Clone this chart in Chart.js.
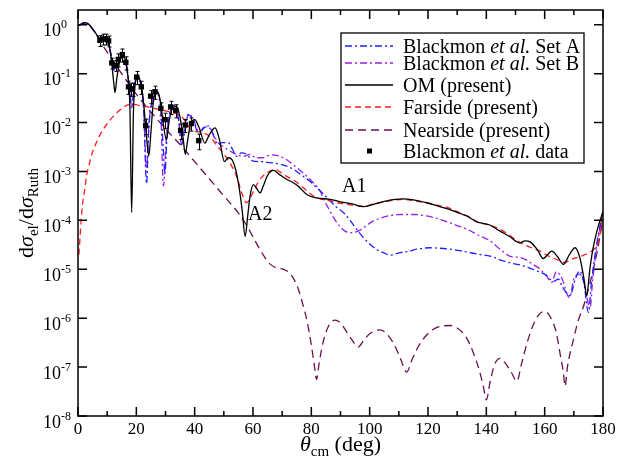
<!DOCTYPE html>
<html>
<head>
<meta charset="utf-8">
<script src="https://cdn.jsdelivr.net/npm/chart.js@4.4.1/dist/chart.umd.min.js"></script>
<style>
  html, body { margin: 0; padding: 0; background: #fff; }
  canvas { display: block; }
</style>
</head>
<body>
<canvas id="chart" width="628" height="464"></canvas>
<script>
// angles in degrees; curve values are log10(dσ_el/dσ_Ruth)
const omTheta = [0,1,2.3,3.5,4.5,5.7,7,8,9,10,10.8,11.5,12.2,12.7,13.3,14.2,15.3,16.2,17,17.8,18.4,19,19.8,20.6,21.5,22.5,23.5,24.3,25,25.8,27,28.2,29.3,30.3,31.3,32.5,33.8,35,36,36.8,37.5,38.5,40,41.5,43.5,45,47,48.5,50.2,51.5,52.8,54,55.3,56.3,57.3,58.2,59,60.1,61.3,62.4,63.5,65,67,69,71.5,73.5,75.5,78.4,81.8,86.4,90,94.4,97.8,101,105.8,111.4,115,119.5,123,127.5,131,133.3,136.7,141,144.7,148,151.5,153.3,155,157.5,159.5,161,162.4,164.5,166.4,168.5,170.4,172,173.5,174.4,175.5,176.5,178,180];
const omLog = [-0.02,0,0.04,0.02,-0.05,-0.14,-0.25,-0.3,-0.3,-0.32,-0.45,-0.75,-1.15,-1.39,-1.1,-0.78,-0.63,-0.7,-1.0,-1.7,-3.84,-1.8,-1.15,-1.05,-1.2,-1.6,-2.3,-2.68,-2.2,-1.6,-1.36,-1.55,-2.05,-2.35,-1.95,-1.7,-1.67,-1.9,-2.3,-2.65,-2.4,-2.05,-1.94,-2.1,-2.42,-2.25,-2.11,-2.35,-2.8,-2.72,-2.76,-2.95,-3.35,-3.8,-4.33,-3.9,-3.5,-3.27,-3.35,-3.44,-3.3,-3.08,-2.98,-3.06,-3.16,-3.22,-3.3,-3.47,-3.54,-3.57,-3.62,-3.67,-3.72,-3.68,-3.6,-3.56,-3.58,-3.64,-3.7,-3.78,-3.86,-3.91,-4.03,-4.09,-4.22,-4.33,-4.46,-4.42,-4.44,-4.6,-4.78,-4.7,-4.63,-4.75,-4.9,-4.7,-4.56,-4.75,-5.2,-5.54,-5.0,-4.6,-4.2,-3.82];

const setATheta = [0,2.3,4.5,6,7.5,9,10.5,11.7,12.5,13.3,14.5,15.5,16.5,17.5,18.4,19.3,20.5,21.5,22.5,23.5,24.3,25.5,27,28.3,29.3,29.8,30.5,31.5,33,34.5,35.5,36.5,37.8,39.5,41.5,43,44.5,46,48,49.5,51.5,53,54.4,56,57.8,60.1,63,65.8,68.5,71.5,74.5,77.2,79.5,81.8,84,86.4,89,91,93.3,95.5,97.8,100.1,102.5,104.7,107,110.4,113.8,116.1,120.7,124,127.5,131,134.4,138,141.3,145.8,149,152.7,155,157.3,160.5,163,164.7,166,168.7,170.5,172,173.5,175,176,177.5,180];
const setALog = [-0.02,0.04,-0.05,-0.17,-0.28,-0.33,-0.42,-0.7,-0.9,-0.85,-0.7,-0.66,-0.8,-1.2,-1.65,-1.25,-1.05,-1.2,-1.75,-3.25,-2.1,-1.55,-1.38,-1.7,-2.6,-3.05,-2.3,-1.8,-1.65,-1.95,-2.45,-2.2,-1.84,-1.95,-2.25,-2.12,-2.08,-2.2,-2.45,-2.41,-2.41,-2.55,-2.69,-2.62,-2.65,-2.79,-2.8,-2.82,-2.84,-2.89,-2.98,-3.1,-3.2,-3.33,-3.45,-3.6,-3.75,-3.84,-4.0,-4.18,-4.35,-4.49,-4.6,-4.66,-4.71,-4.66,-4.63,-4.59,-4.56,-4.57,-4.59,-4.62,-4.66,-4.7,-4.73,-4.83,-4.88,-4.93,-4.98,-5.03,-5.12,-5.25,-5.2,-5.35,-5.54,-5.2,-5.03,-5.3,-5.88,-5.3,-4.6,-3.82];

const setBTheta = [0,2.3,4.5,6,7.5,9,10.5,11.7,12.5,13.3,14.5,15.5,16.5,17.5,18.4,19.3,20.5,21.5,22.5,23.5,24.3,25.5,27,28.3,29.3,30.2,31.5,33,34.5,35.5,36.5,38,39.5,41.5,43,44.7,46.5,48,50,53.2,56.7,59,61,63.4,66,69.3,72,75,77,79.5,81.5,83,84.5,86.4,88,89.8,91.5,93.3,95,96.7,99,101.3,104,108.1,111.5,115,119.5,123.5,127.5,131,133.3,137.8,141.3,144.7,148,151.5,154,156,158.5,160.7,162.4,164,166,168.5,170,172,174,175.5,176.5,178,180];
const setBLog = [-0.02,0.04,-0.05,-0.17,-0.28,-0.33,-0.42,-0.72,-0.95,-0.88,-0.7,-0.66,-0.82,-1.25,-1.7,-1.28,-1.05,-1.2,-1.7,-2.95,-2.05,-1.55,-1.38,-1.7,-3.3,-2.4,-1.8,-1.65,-1.95,-2.45,-2.15,-1.82,-1.92,-2.2,-2.1,-2.07,-2.25,-2.41,-2.5,-2.62,-2.69,-2.65,-2.72,-2.72,-2.66,-2.69,-2.78,-2.92,-3.02,-3.16,-3.28,-3.4,-3.6,-3.81,-3.98,-4.12,-4.22,-4.25,-4.24,-4.2,-4.1,-4.01,-3.95,-3.89,-3.88,-3.88,-3.91,-3.97,-4.05,-4.13,-4.18,-4.32,-4.42,-4.59,-4.73,-4.76,-4.82,-4.9,-5.0,-5.14,-5.27,-5.05,-5.2,-5.58,-5.2,-5.1,-5.4,-5.82,-5.2,-4.5,-3.82];

const farTheta = [0.3,0.7,1.1,1.6,2.3,3,4,5,6.3,8,10.3,12,13.7,15.5,17.1,19.4,21.5,24,27,30,32.6,35,36.5,38.4,40,42.4,45.3,47,48.7,50.5,52,54.4,56.1,57.8,59,61.3,63,64.7,67.5,69.5,71.5,74,76,78.5,80.6,83,86.4,89,92.1,95,97.7,101,103.5,107,111.4,115,119.5,123,126.4,130,133.3,137.8,141.3,144.7,148,151.5,155,158.4,161,164.1,167,169,171,173,175.5,177,178.3,179.2,180];
const farLog = [-4.7,-4.35,-3.98,-3.65,-3.37,-3.07,-2.82,-2.6,-2.41,-2.2,-2.0,-1.88,-1.78,-1.69,-1.64,-1.63,-1.66,-1.68,-1.72,-1.76,-1.8,-1.85,-1.95,-2.12,-2.18,-2.2,-2.29,-2.42,-2.55,-2.68,-2.82,-3.1,-3.43,-3.64,-3.55,-3.27,-3.12,-3.03,-2.96,-3.02,-3.1,-3.18,-3.27,-3.4,-3.5,-3.56,-3.6,-3.64,-3.67,-3.7,-3.71,-3.67,-3.64,-3.6,-3.57,-3.6,-3.64,-3.69,-3.73,-3.82,-3.91,-4.05,-4.1,-4.18,-4.31,-4.45,-4.55,-4.63,-4.72,-4.8,-4.86,-4.8,-4.76,-4.72,-4.65,-4.58,-4.45,-4.2,-3.82];

const nearTheta = [0,2.3,4,6,8,10,12,14,16,18,20,22,24,27,30,35,40,45,50,55,58,61,64,66,68,70.5,72,74,75.5,77,78.5,80,81,81.8,82.6,84,86,88.1,90,92,94,96,98,100,103.5,106,108.5,110.5,112.7,114.5,116.5,119,122,125,127.5,130,133,135.5,137.5,139,140,141.3,142.8,144.7,146.5,148.5,150.5,152,154,156,158,160,162,164,165.5,166.4,167,167.8,169.9,171.5,173.3,175,176.7,178.3,180];
const nearLog = [-0.02,0.04,0.0,-0.18,-0.38,-0.56,-0.74,-0.92,-1.09,-1.26,-1.42,-1.57,-1.72,-1.92,-2.13,-2.45,-2.8,-3.15,-3.5,-3.85,-4.12,-4.45,-4.75,-4.9,-4.97,-5.0,-5.05,-5.2,-5.4,-5.7,-6.05,-6.55,-6.95,-7.25,-6.95,-6.5,-6.15,-6.04,-6.1,-6.27,-6.45,-6.59,-6.45,-6.32,-6.24,-6.33,-6.55,-6.82,-7.1,-6.85,-6.6,-6.38,-6.22,-6.16,-6.15,-6.2,-6.38,-6.7,-7.05,-7.4,-7.67,-7.3,-6.95,-6.82,-6.92,-7.1,-7.29,-6.95,-6.5,-6.15,-5.93,-5.86,-5.98,-6.3,-6.8,-7.1,-7.39,-7.0,-6.43,-6.05,-5.76,-5.4,-5.0,-4.55,-3.95];

// Blackmon et al. data points, with relative errors
const dataTheta = [7.5,8.7,9.6,10.5,11.6,12.9,13.8,15.2,16.4,17.3,18.2,18.7,20.1,21.7,23.2,24.9,26.4,28.4,29.9,31.8,33.5,35.2,36.8,38.9,41.4];
const dataLog = [-0.32,-0.29,-0.29,-0.33,-0.78,-0.83,-0.71,-0.61,-0.77,-1.27,-1.31,-1.31,-1.07,-1.27,-2.06,-1.46,-1.37,-1.71,-1.94,-1.68,-1.75,-2.16,-2.05,-2.02,-2.37];
const dataErr = [0.25,0.25,0.25,0.25,0.25,0.25,0.3,0.3,0.3,0.3,0.3,0.3,0.3,0.3,0.35,0.3,0.3,0.3,0.35,0.3,0.3,0.35,0.3,0.3,0.35];

const xMajor = [0,20,40,60,80,100,120,140,160,180];
const xMinor = [10,30,50,70,90,110,130,150,170];
const yDecades = [0,-1,-2,-3,-4,-5,-6,-7,-8];

const SERIF = '"Liberation Serif", "DejaVu Serif", serif';
const toPoints = (th, lg) => th.map((t, i) => ({ x: t, y: Math.pow(10, lg[i]) }));

const curveStyle = { showLine: true, pointRadius: 0, fill: false, cubicInterpolationMode: 'monotone', borderWidth: 1.3 };

const series = [
  { key: 'setA', parts: [['Blackmon ', ''], ['et al.', 'italic '], [' Set A', '']], color: '#2020ff', dash: [7, 3, 2, 3] },
  { key: 'setB', parts: [['Blackmon ', ''], ['et al.', 'italic '], [' Set B', '']], color: '#9a1fe0', dash: [7, 3, 2, 3] },
  { key: 'om', parts: [['OM (present)', '']], color: '#000000', dash: [] },
  { key: 'far', parts: [['Farside (present)', '']], color: '#ff1a1a', dash: [6, 4] },
  { key: 'near', parts: [['Nearside (present)', '']], color: '#6b0f4f', dash: [8, 5] },
  { key: 'data', parts: [['Blackmon ', ''], ['et al.', 'italic '], [' data', '']], color: '#000000', dash: null }
];
const legendRowY = [13, 30, 52, 74, 97, 118];

function drawParts(ctx, parts, x, y) {
  // parts: [text, font, dy]
  let cx = x;
  parts.forEach(p => {
    ctx.font = p[1];
    ctx.fillText(p[0], cx, y + (p[2] || 0));
    cx += ctx.measureText(p[0]).width;
  });
  return cx - x;
}
function partsWidth(ctx, parts) {
  let w = 0;
  parts.forEach(p => { ctx.font = p[1]; w += ctx.measureText(p[0]).width; });
  return w;
}

const errorBars = {
  id: 'errorBars',
  afterDatasetsDraw(chart) {
    const { ctx, scales: { x, y } } = chart;
    ctx.save();
    ctx.strokeStyle = '#000';
    ctx.lineWidth = 1;
    dataTheta.forEach((t, i) => {
      const v = Math.pow(10, dataLog[i]);
      const px = Math.round(x.getPixelForValue(t)) + 0.5;
      const top = y.getPixelForValue(v * (1 + dataErr[i]));
      const bot = y.getPixelForValue(v * (1 - dataErr[i]));
      ctx.beginPath();
      ctx.moveTo(px, top); ctx.lineTo(px, bot);
      ctx.moveTo(px - 2, top); ctx.lineTo(px + 2, top);
      ctx.moveTo(px - 2, bot); ctx.lineTo(px + 2, bot);
      ctx.stroke();
    });
    ctx.restore();
  }
};

const frame = {
  id: 'frame',
  afterDraw(chart) {
    const { ctx, chartArea: a, scales: { x, y } } = chart;
    ctx.save();
    ctx.strokeStyle = '#000';
    ctx.lineWidth = 1.5;
    ctx.strokeRect(a.left, a.top, a.right - a.left, a.bottom - a.top);

    ctx.beginPath();
    xMajor.forEach(v => {
      const px = x.getPixelForValue(v);
      ctx.moveTo(px, a.bottom); ctx.lineTo(px, a.bottom - 9);
      ctx.moveTo(px, a.top); ctx.lineTo(px, a.top + 9);
    });
    xMinor.forEach(v => {
      const px = x.getPixelForValue(v);
      ctx.moveTo(px, a.bottom); ctx.lineTo(px, a.bottom - 5);
      ctx.moveTo(px, a.top); ctx.lineTo(px, a.top + 5);
    });
    yDecades.forEach(e => {
      const py = y.getPixelForValue(Math.pow(10, e));
      ctx.moveTo(a.left, py); ctx.lineTo(a.left + 9, py);
      ctx.moveTo(a.right, py); ctx.lineTo(a.right - 9, py);
    });
    ctx.stroke();

    // tick labels
    ctx.fillStyle = '#000';
    ctx.textBaseline = 'alphabetic';
    ctx.textAlign = 'center';
    ctx.font = '17px ' + SERIF;
    xMajor.forEach(v => ctx.fillText(String(v), x.getPixelForValue(v), a.bottom + 18));
    ctx.textAlign = 'left';
    yDecades.forEach(e => {
      const py = y.getPixelForValue(Math.pow(10, e));
      drawParts(ctx, [['10', '18px ' + SERIF, 11.5], [String(e), '12px ' + SERIF, 3.5]], a.left - 35, py);
    });

    // axis titles
    const big = '22px ' + SERIF, bigIt = 'italic 22px ' + SERIF, sub = '15px ' + SERIF;
    const xt = [['θ', bigIt, 0], ['cm', sub, 5], [' (deg)', big, 0]];
    const xw = partsWidth(ctx, xt);
    drawParts(ctx, xt, (a.left + a.right) / 2 - xw / 2, a.bottom + 35);

    const yt = [['d', big, 0], ['σ', bigIt, 0], ['el', sub, 5], ['/d', big, 0], ['σ', bigIt, 0], ['Ruth', sub, 5]];
    const yw = partsWidth(ctx, yt);
    ctx.save();
    ctx.translate(a.left - 45, (a.top + a.bottom) / 2);
    ctx.rotate(-Math.PI / 2);
    drawParts(ctx, yt, -yw / 2, 0);
    ctx.restore();

    // annotations
    ctx.font = '20px ' + SERIF;
    ctx.textBaseline = 'middle';
    ctx.fillText('A1', x.getPixelForValue(90.5), y.getPixelForValue(Math.pow(10, -3.31)));
    ctx.fillText('A2', x.getPixelForValue(58.3), y.getPixelForValue(Math.pow(10, -3.88)));

    // legend
    const lx = a.right - 262, ly = a.top + 23, lw = 243, lh = 130;
    ctx.fillStyle = '#fff';
    ctx.fillRect(lx, ly, lw, lh);
    ctx.lineWidth = 1.3;
    ctx.strokeStyle = '#000';
    ctx.strokeRect(lx, ly, lw, lh);
    ctx.textBaseline = 'alphabetic';
    series.forEach((s, i) => {
      const ry = ly + legendRowY[i];
      if (s.dash) {
        ctx.beginPath();
        ctx.setLineDash(s.dash);
        ctx.strokeStyle = s.color;
        ctx.lineWidth = 1.3;
        ctx.moveTo(lx + 4, ry); ctx.lineTo(lx + 52, ry);
        ctx.stroke();
        ctx.setLineDash([]);
      } else {
        ctx.fillStyle = '#000';
        ctx.fillRect(lx + 26, ry - 2.5, 5, 5);
      }
      ctx.fillStyle = '#000';
      drawParts(ctx, s.parts.map(p => [p[0], p[1] + '20px ' + SERIF, 0]), lx + 62, ry + 7);
    });
    ctx.restore();
  }
};

const byKey = k => series.find(s => s.key === k);
const lineSet = (k, th, lg) => Object.assign({}, curveStyle, {
  label: k, data: toPoints(th, lg), borderColor: byKey(k).color, borderDash: byKey(k).dash
});

new Chart(document.getElementById('chart'), {
  type: 'scatter',
  data: {
    datasets: [
      { label: 'data', data: toPoints(dataTheta, dataLog), pointStyle: 'rect', pointRadius: 3.8, backgroundColor: '#000', borderColor: '#000', borderWidth: 0, showLine: false },
      lineSet('om', omTheta, omLog),
      lineSet('far', farTheta, farLog),
      lineSet('setA', setATheta, setALog),
      lineSet('setB', setBTheta, setBLog),
      lineSet('near', nearTheta, nearLog)
    ]
  },
  options: {
    responsive: false,
    animation: false,
    devicePixelRatio: 1,
    layout: { padding: { left: 78, right: 25, top: 10, bottom: 48 } },
    plugins: { legend: { display: false }, tooltip: { enabled: false }, title: { display: false } },
    scales: {
      x: { type: 'linear', min: 0, max: 180, display: false },
      y: { type: 'logarithmic', min: 1e-8, max: 2, display: false }
    }
  },
  plugins: [errorBars, frame]
});
</script>
</body>
</html>
